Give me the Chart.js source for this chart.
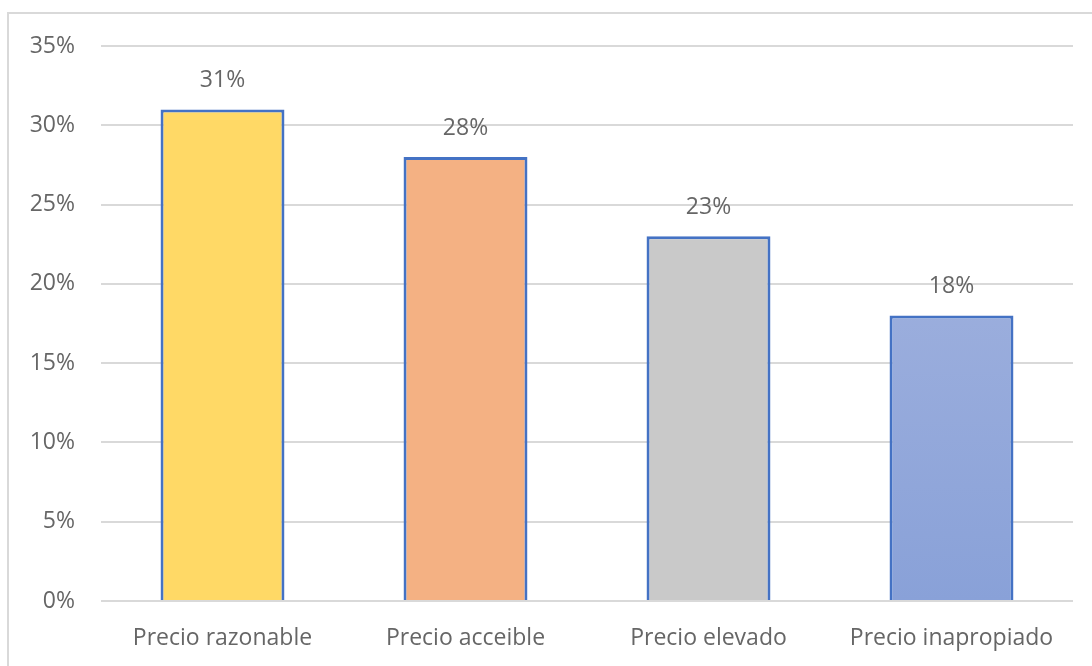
<!DOCTYPE html>
<html>
<head>
<meta charset="utf-8">
<script src="https://cdn.jsdelivr.net/npm/chart.js@4/dist/chart.umd.min.js"></script>
<style>
  html, body { margin: 0; padding: 0; background: #fff; }
  body { width: 1092px; height: 666px; position: relative; overflow: hidden; }
  .frame { position: absolute; left: 7px; top: 12px; width: 1200px; height: 800px;
           border-left: 2px solid #d9d9d9; border-top: 2px solid #d9d9d9; }
  #wrap { position: absolute; left: 0; top: 0; width: 1092px; height: 666px; }
</style>
</head>
<body>
<div class="frame"></div>
<div id="wrap"><canvas id="chart"></canvas></div>
<script>
// chart values
const categories = ['Precio razonable', 'Precio acceible', 'Precio elevado', 'Precio inapropiado'];
const values = [31, 28, 23, 18];
const yTicks = [0, 5, 10, 15, 20, 25, 30, 35];

const FONT = '"Open Sans", "Noto Sans", sans-serif';
const TXT = '#666666';
const SIZE = 23;

// bar fills, last one is a vertical gradient
function fillFor(ctx) {
  const i = ctx.dataIndex;
  if (i === 0) return '#ffd966';
  if (i === 1) return '#f4b183';
  if (i === 2) return '#c9c9c9';
  const area = ctx.chart.chartArea;
  if (!area) return '#97a9d9';
  const bar = ctx.chart.getDatasetMeta(0).data[i];
  const top = bar && bar.y ? bar.y : area.top;
  const g = ctx.chart.ctx.createLinearGradient(0, top, 0, area.bottom);
  g.addColorStop(0, '#abb9e1');
  g.addColorStop(1, '#89a1d8');
  return g;
}

// value labels above the bars
const valueLabels = {
  id: 'valueLabels',
  afterDatasetsDraw(chart) {
    const c = chart.ctx;
    c.save();
    c.font = SIZE + 'px ' + FONT;
    c.fillStyle = TXT;
    c.textAlign = 'center';
    c.textBaseline = 'middle';
    chart.getDatasetMeta(0).data.forEach((bar, i) => {
      c.fillText(values[i] + '%', bar.x, bar.y - 29);
    });
    c.restore();
  }
};

const ctx = document.getElementById('chart').getContext('2d');
new Chart(ctx, {
  type: 'bar',
  data: {
    labels: categories,
    datasets: [{
      data: values,
      backgroundColor: fillFor,
      borderColor: '#4472c4',
      borderWidth: 3,
      borderSkipped: 'bottom',
      barPercentage: 0.51,
      categoryPercentage: 1.0
    }]
  },
  options: {
    responsive: true,
    maintainAspectRatio: false,
    animation: false,
    layout: { padding: { top: 46, right: 19, left: 0, bottom: 0 } },
    plugins: { legend: { display: false }, tooltip: { enabled: false } },
    scales: {
      x: {
        grid: { display: false },
        border: { display: false },
        ticks: { color: TXT, font: { family: FONT, size: SIZE }, padding: 16 },
        afterFit(s) { s.height = 65; }
      },
      y: {
        min: 0,
        max: 35,
        afterBuildTicks(s) { s.ticks = yTicks.map(v => ({ value: v })); },
        grid: { color: '#d9d9d9', lineWidth: 2, drawTicks: false },
        border: { display: false },
        ticks: {
          color: TXT,
          font: { family: FONT, size: SIZE },
          padding: 26,
          callback: v => v + '%'
        },
        afterFit(s) { s.width = 101; }
      }
    }
  },
  plugins: [valueLabels]
});
</script>
</body>
</html>
